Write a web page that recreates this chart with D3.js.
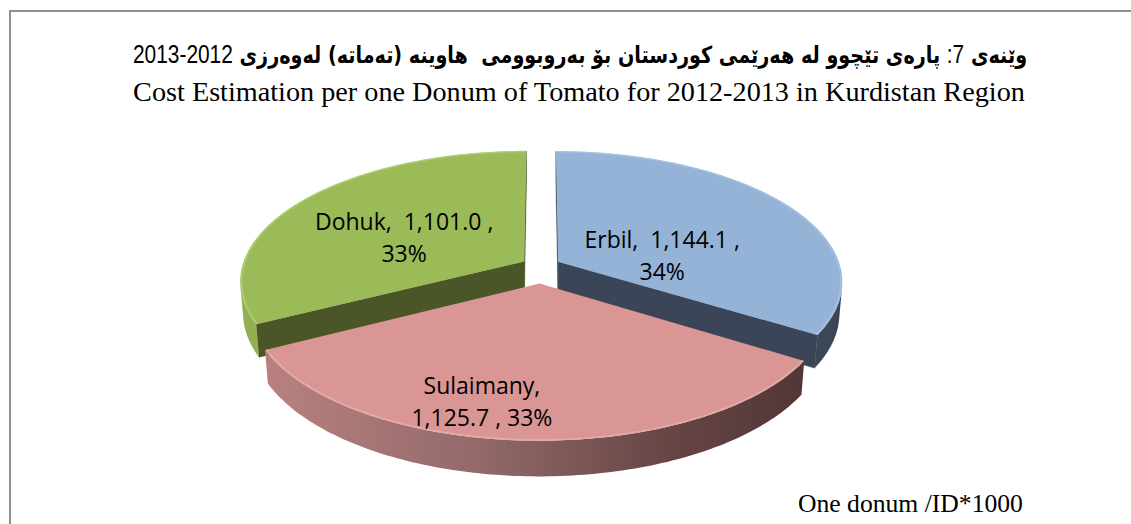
<!DOCTYPE html>
<html>
<head>
<meta charset="utf-8">
<script src="https://cdn.jsdelivr.net/npm/d3@7"></script>
<style>
  body { margin: 0; background: #fff; }
  svg { display: block; }
  text { white-space: pre; }
</style>
</head>
<body>
<svg id="chart" width="1131" height="524"></svg>
<script>
// data
const regions = ["Erbil", "Sulaimany", "Dohuk"];
const costs = [1144.1, 1125.7, 1101.0];
// title line 1 in logical order: [text, isNumber]
const titleKuParts = [
  ["وێنەی ", false],
  ["7:", true],
  [" پارەی تێچوو لە هەرێمی کوردستان بۆ بەروبوومی  هاوینە (تەماتە) لەوەرزی ", false],
  ["2012-2013", true]
];
const titleEn = "Cost Estimation per one Donum of Tomato for 2012-2013 in Kurdistan Region";
const unitNote = "One donum /ID*1000";

// look
const topColor = d3.scaleOrdinal(regions, ["#95b3d7", "#d99694", "#9bbb59"]);
const radialColor = d3.scaleOrdinal(regions, ["#3a4658", "#6e4a49", "#4a5627"]);
const rimColor = d3.scaleOrdinal(regions, ["#3b4759", "#8a605e", "#91b151"]);
const edgeColor = d3.scaleOrdinal(regions, ["#a9c3e2", "#eaaeab", "#b2d270"]);
const explode = d3.scaleOrdinal(regions, [0.07, 0.135, 0.07]);
// label anchor on the disc: [radius, angle in degrees]
const labelAnchor = d3.scaleOrdinal(regions, [[0.375, 84.3], [0.81, 192.5], [0.478, 292.6]]);

const svg = d3.select('#chart');
const width = +svg.attr('width');
const height = +svg.attr('height');

// simple perspective camera for the tilted pie
const view = {cx: 541, cy: 266, F: 1692, Z: 6, tilt: 27 * Math.PI / 180, depth: 0.126};
const sinT = Math.sin(view.tilt), cosT = Math.cos(view.tilt);
const camera = [0, -view.Z * cosT, view.Z * sinT];

function project(u, w, h) {
  const zc = view.Z + w * cosT - h * sinT;
  return [view.cx + view.F * u / zc, view.cy - view.F * (w * sinT + h * cosT) / zc];
}
function faces(n, p) {
  return n[0] * (camera[0] - p[0]) + n[1] * (camera[1] - p[1]) + n[2] * (camera[2] - p[2]) > 0;
}

const defs = svg.append('defs');

// frame
svg.append('rect')
  .attr('x', 10).attr('y', 11)
  .attr('width', width + 40).attr('height', height + 40)
  .attr('fill', '#fff')
  .attr('stroke', '#8e8e8e')
  .attr('stroke-width', 2);

const pie = d3.pie().sort(null).value(d => d).startAngle(0).endAngle(2 * Math.PI);
const arcs = pie(costs).map((d, i) => {
  const mid = (d.startAngle + d.endAngle) / 2;
  const e = explode(regions[i]);
  return {...d, name: regions[i], mid, ex: e * Math.sin(mid), ew: e * Math.cos(mid)};
});

const line = d3.line();
const D = view.depth;

function rimPoint(s, a, r, h) {
  return project(s.ex + r * Math.sin(a), s.ew + r * Math.cos(a), h);
}

// far slices first
const order = arcs.slice().sort((a, b) => b.ew + Math.cos(b.mid) * 0.5 - (a.ew + Math.cos(a.mid) * 0.5));

const g = svg.append('g');

order.forEach(s => {
  const sg = g.append('g');
  const steps = 120;
  const angles = d3.range(steps + 1).map(k => s.startAngle + (s.endAngle - s.startAngle) * k / steps);

  // radial cut faces
  [[s.startAngle, -1], [s.endAngle, 1]].forEach(([a, dir]) => {
    const n = [dir * Math.cos(a), -dir * Math.sin(a), 0];
    const p = [s.ex + 0.5 * Math.sin(a), s.ew + 0.5 * Math.cos(a), -D / 2];
    if (!faces(n, p)) return;
    const pts = [project(s.ex, s.ew, 0), rimPoint(s, a, 1, 0), rimPoint(s, a, 1, -D), project(s.ex, s.ew, -D)];
    sg.append('path')
      .attr('d', line(pts) + 'Z')
      .attr('fill', radialColor(s.name))
      .attr('stroke', radialColor(s.name))
      .attr('stroke-width', 0.5);
  });

  // outer curved side
  const vis = angles.filter(a => faces([Math.sin(a), Math.cos(a), 0],
    [s.ex + Math.sin(a), s.ew + Math.cos(a), -D / 2]));
  if (vis.length > 1) {
    const topPts = vis.map(a => rimPoint(s, a, 1, 0));
    const botPts = vis.map(a => rimPoint(s, a, 1, -D)).reverse();
    const pts = topPts.concat(botPts);
    let fill = rimColor(s.name);
    if (s.name === "Sulaimany") {
      const xs = d3.extent(pts, p => p[0]);
      const grad = defs.append('linearGradient')
        .attr('id', 'rim-' + s.name)
        .attr('gradientUnits', 'userSpaceOnUse')
        .attr('x1', xs[0]).attr('x2', xs[1]).attr('y1', 0).attr('y2', 0);
      [[0, "#b8817f"], [0.4, "#93696a"], [0.75, "#664545"], [1, "#533636"]].forEach(([o, c]) =>
        grad.append('stop').attr('offset', o).attr('stop-color', c));
      fill = 'url(#rim-' + s.name + ')';
    }
    sg.append('path')
      .attr('d', line(pts) + 'Z')
      .attr('fill', fill);
  }

  // top face
  const topPts = [project(s.ex, s.ew, 0)].concat(angles.map(a => rimPoint(s, a, 1, 0)));
  sg.append('path')
    .attr('d', line(topPts) + 'Z')
    .attr('fill', topColor(s.name));
  sg.append('path')
    .attr('d', line(angles.map(a => rimPoint(s, a, 0.995, 0))))
    .attr('fill', 'none')
    .attr('stroke', edgeColor(s.name))
    .attr('stroke-width', 1.5)
    .attr('stroke-opacity', 0.8);
});

// data labels
const fmt = d3.format(",.1f");
const pct = d3.format(".0%");
const total = d3.sum(costs);
const labelLines = arcs.map(s => {
  const v = fmt(s.value) + " ";
  const p = pct(s.value / total);
  return s.name === "Sulaimany"
    ? [s.name + ",", v + ", " + p]
    : [s.name + ",  " + v + ",", p];
});

arcs.forEach((s, i) => {
  const [r, deg] = labelAnchor(s.name);
  const a = deg * Math.PI / 180;
  const [x, y] = rimPoint(s, a, r, 0);
  const t = svg.append('text')
    .attr('text-anchor', 'middle')
    .attr('font-family', '"Open Sans", "Noto Sans", sans-serif')
    .attr('font-size', 23)
    .attr('fill', '#000');
  labelLines[i].forEach((txt, k) => {
    t.append('tspan')
      .attr('x', x)
      .attr('y', y + (k === 0 ? -9 : 23))
      .text(txt);
  });
});

// titles
function fitText(sel, target) {
  const w = sel.node().getComputedTextLength();
  const fs = +sel.attr('font-size');
  sel.attr('font-size', fs * target / w);
}

const numSize = 25.5;
const squeeze = 0.82;
const kuFont = '"DejaVu Sans", sans-serif';
const numFont = 'Arial, "Liberation Sans", sans-serif';
const t1 = svg.append('text')
  .attr('transform', `translate(580,63) scale(${squeeze},1)`)
  .attr('text-anchor', 'middle')
  .attr('direction', 'rtl');
const kuSpans = [];
titleKuParts.forEach(([txt, isNum]) => {
  const sp = t1.append('tspan').text(txt);
  if (isNum) {
    sp.attr('font-family', numFont).attr('font-size', numSize).attr('font-weight', 'normal');
  } else {
    sp.attr('font-family', kuFont).attr('font-size', 20).attr('font-weight', 'bold');
    kuSpans.push(sp);
  }
});
// fit the Kurdish words so the whole line spans the reference width
const numWidth = d3.sum(titleKuParts.filter(p => p[1]), p => {
  const tmp = svg.append('text').attr('font-family', numFont)
    .attr('font-size', numSize).text(p[0]);
  const w = tmp.node().getComputedTextLength();
  tmp.remove();
  return w;
});
const lineTarget = 894 / squeeze;
for (let k = 0; k < 3; k++) {
  const wt = t1.node().getComputedTextLength();
  const fs = +kuSpans[0].attr('font-size');
  const nfs = fs * (lineTarget - numWidth) / (wt - numWidth);
  kuSpans.forEach(sp => sp.attr('font-size', nfs));
}

const t2 = svg.append('text')
  .attr('x', 579).attr('y', 101)
  .attr('text-anchor', 'middle')
  .attr('font-family', '"Times New Roman", "Liberation Serif", serif')
  .attr('font-size', 24)
  .text(titleEn);
fitText(t2, 892);

const t3 = svg.append('text')
  .attr('x', 798).attr('y', 512)
  .attr('font-family', '"Times New Roman", "Liberation Serif", serif')
  .attr('font-size', 19)
  .text(unitNote);
fitText(t3, 225);
</script>
</body>
</html>
